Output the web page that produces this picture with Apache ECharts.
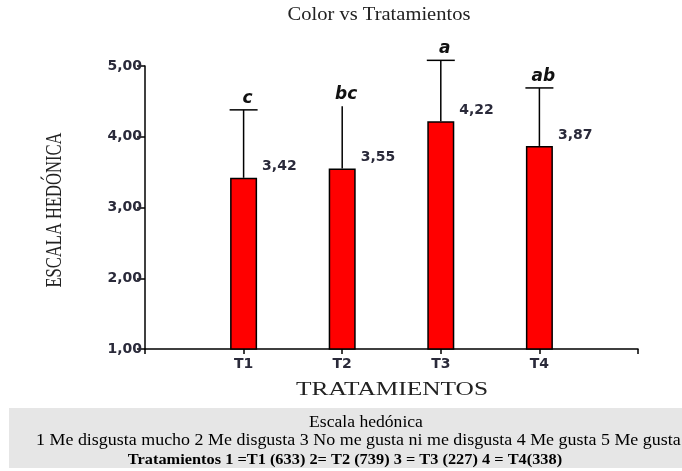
<!DOCTYPE html>
<html>
<head>
<meta charset="utf-8">
<script src="https://cdn.jsdelivr.net/npm/echarts@6/dist/echarts.min.js"></script>
<style>html,body{margin:0;padding:0;background:#fff;}#c{width:682px;height:471px;}</style>
</head>
<body>
<div id="c"></div>
<script>
const categories = ['T1', 'T2', 'T3', 'T4'];
const means = [3.42, 3.55, 4.22, 3.87];
const upperErr = [4.38, 4.43, 5.08, 4.69];
const letters = ['c', 'bc', 'a', 'ab'];
const capShown = [true, false, true, true];
const yMin = 1, yMax = 5, yStep = 1;
const titleText = 'Color vs Tratamientos';
const yName = 'ESCALA HEDÓNICA';
const xName = 'TRATAMIENTOS';
const footer1 = 'Escala hedónica';
const footer2 = '1 Me disgusta mucho 2 Me disgusta 3 No me gusta ni me disgusta 4 Me gusta 5 Me gusta';
const footer3 = 'Tratamientos 1 =T1 (633) 2= T2 (739) 3 = T3 (227) 4 = T4(338)';

const axisCats = [''].concat(categories, ['']);
const barData = [null].concat(means, [null]);
const errData = categories.map((c, i) => [i + 1, means[i], upperErr[i], letters[i], capShown[i] ? 1 : 0]);
const fmt = v => v.toFixed(2).replace('.', ',');

const chart = echarts.init(document.getElementById('c'), null, {renderer: 'canvas'});
const serif = '"Liberation Serif", "Times New Roman", serif';
const sans = '"DejaVu Sans", Verdana, sans-serif';
const labelColor = '#2a2a3a';

chart.setOption({
  animation: false,
  backgroundColor: '#ffffff',
  grid: {left: 145, right: 44, top: 66, bottom: 122, containLabel: false},
  xAxis: {
    type: 'category',
    data: axisCats,
    boundaryGap: false,
    axisLine: {lineStyle: {color: '#000', width: 1.5}},
    axisTick: {show: true, length: 5, interval: 0, lineStyle: {color: '#000', width: 1.5}},
    axisLabel: {interval: 0, color: labelColor, fontFamily: sans, fontWeight: 'bold', fontSize: 14, margin: 8},
    splitLine: {show: false}
  },
  yAxis: {
    type: 'value',
    min: yMin, max: yMax, interval: yStep,
    axisLine: {show: true, lineStyle: {color: '#000', width: 1.5}},
    axisTick: {show: true, length: 8, lineStyle: {color: '#000', width: 1.5}},
    axisLabel: {color: labelColor, fontFamily: sans, fontWeight: 'bold', fontSize: 14, margin: 3, formatter: fmt},
    splitLine: {show: false}
  },
  series: [
    {
      type: 'bar',
      data: barData,
      barWidth: 27,
      itemStyle: {color: '#ff0000', borderColor: '#000', borderWidth: 1.5},
      label: {
        show: true,
        position: [32, -11],
        verticalAlign: 'middle',
        align: 'left',
        color: labelColor,
        fontFamily: sans,
        fontWeight: 'bold',
        fontSize: 14,
        formatter: p => p.value == null ? '' : fmt(p.value)
      },
      z: 2
    },
    {
      type: 'custom',
      data: errData,
      encode: {x: 0, y: [1, 2]},
      z: 3,
      renderItem: function (params, api) {
        const x = api.value(0);
        const base = api.coord([x, api.value(1)]);
        const top = api.coord([x, api.value(2)]);
        const half = 14;
        const children = [
          {type: 'line', shape: {x1: base[0], y1: base[1], x2: top[0], y2: top[1]}, style: {stroke: '#000', lineWidth: 1.5}}
        ];
        if (api.value(4)) {
          children.push({type: 'line', shape: {x1: top[0] - half, y1: top[1], x2: top[0] + half, y2: top[1]}, style: {stroke: '#000', lineWidth: 1.5}});
        }
        children.push({
          type: 'text',
          style: {x: top[0] + 4, y: top[1] - 3, text: api.value(3), fill: '#111',
            font: 'italic bold 17px ' + sans, textAlign: 'center', textVerticalAlign: 'bottom'}
        });
        return {type: 'group', children: children};
      }
    }
  ],
  graphic: [
    {type: 'text', x: 379, y: 15, scaleX: 1.08,
      style: {text: titleText, fill: '#222', font: '19px ' + serif, textAlign: 'center', textVerticalAlign: 'middle'}},
    {type: 'text', x: 55, y: 210, rotation: Math.PI / 2, scaleX: 0.69,
      style: {text: yName, fill: '#222', font: '24px ' + serif, textAlign: 'center', textVerticalAlign: 'middle'}},
    {type: 'text', x: 392, y: 390, scaleX: 1.41,
      style: {text: xName, fill: '#222', font: '18px ' + serif, textAlign: 'center', textVerticalAlign: 'middle'}},
    {type: 'rect', shape: {x: 9, y: 408, width: 673, height: 60}, style: {fill: '#e6e6e6'}, z: -1},
    {type: 'text', x: 366, y: 423, scaleX: 1.1,
      style: {text: footer1, fill: '#000', font: '16px ' + serif, textAlign: 'center', textVerticalAlign: 'middle'}},
    {type: 'text', x: 36, y: 441, scaleX: 1.056,
      style: {text: footer2, fill: '#000', font: '17px ' + serif, textAlign: 'left', textVerticalAlign: 'middle'}},
    {type: 'text', x: 345, y: 460, scaleX: 1.09,
      style: {text: footer3, fill: '#000', font: 'bold 15px ' + serif, textAlign: 'center', textVerticalAlign: 'middle'}}
  ]
});
</script>
</body>
</html>
